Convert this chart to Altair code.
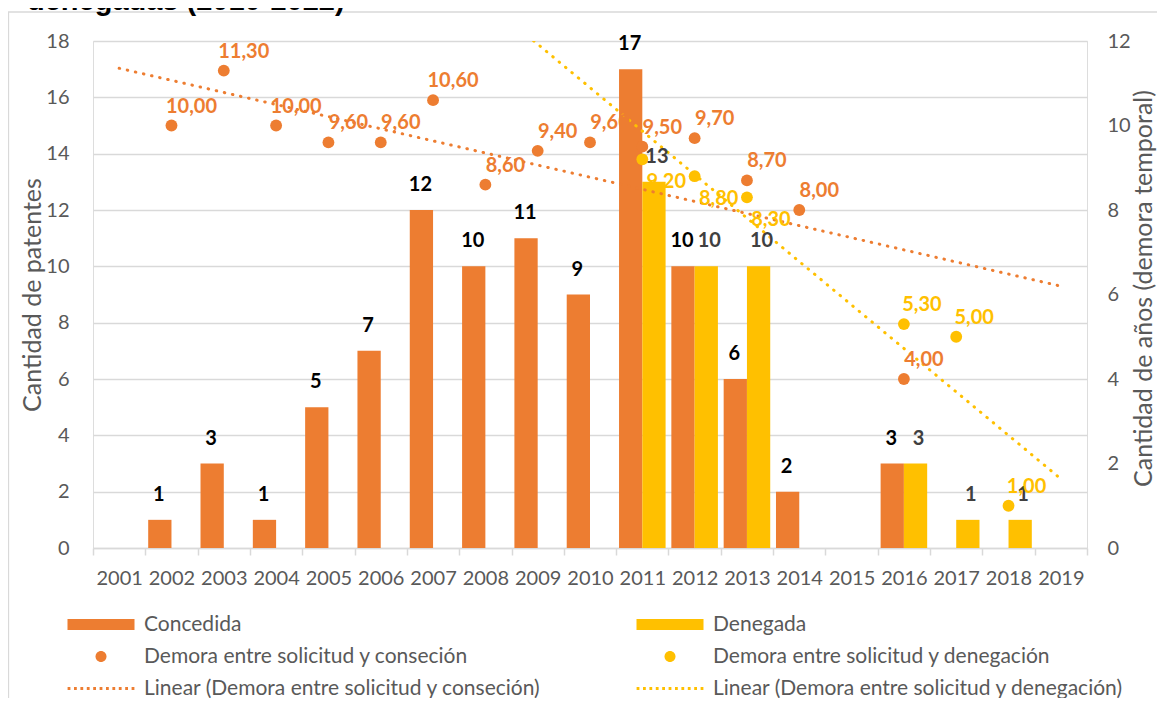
import altair as alt
import pandas as pd

# ---------------- data ----------------
years = list(range(2001, 2020))
concedida = [None, 1, 3, 1, 5, 7, 12, 10, 11, 9, 17, 10, 6, 2, None, 3, None, None, None]
denegada = [None, None, None, None, None, None, None, None, None, None, 13, 10, 10, None, None, 3, 1, 1, None]
demora_concesion = [None, 10.00, 11.30, 10.00, 9.60, 9.60, 10.60, 8.60, 9.40, 9.60, 9.50, 9.70, 8.70, 8.00,
                    None, 4.00, None, None, None]
demora_denegacion = [None, None, None, None, None, None, None, None, None, None, 9.20, 8.80, 8.30, None,
                     None, 5.30, 5.00, 1.00, None]
# x-range over which each linear trend line is visible in the reference
trend_extent_c = [2001, 2019]
trend_extent_d = [2008.8, 2019]

series_a = ["Concedida", "Demora entre solicitud y conseción", "Linear (Demora entre solicitud y conseción)"]
series_b = ["Denegada", "Demora entre solicitud y denegación", "Linear (Demora entre solicitud y denegación)"]
title_text = "denegadas (2010-2022)"
left_title = "Cantidad de patentes"
right_title = "Cantidad de años (demora temporal)"


def table(values):
    d = pd.DataFrame({"year": years, "value": values})
    return d.dropna().reset_index(drop=True)


df_c = table(concedida)
df_d = table(denegada)
df_dc = table(demora_concesion)
df_dd = table(demora_denegacion)

# ---------------- style ----------------
ORANGE = "#ED7D31"
YELLOW = "#FFC000"
GREY = "#595959"
GRID = "#D9D9D9"
FONT = "Lato"
W, H = 994, 507
BAND = W / 19.0

x_scale = alt.Scale(domain=[2000.5, 2019.5], nice=False, zero=False)
x_axis = alt.Axis(
    values=[y - 0.5 for y in years] + [2019.5],
    labelExpr="datum.value < 2019 ? '' + (datum.value + 0.5) : ''",
    labelOffset=BAND / 2, labelFlush=False, labelOverlap=False, labelBound=False,
    grid=False, tickSize=7, tickColor=GRID, tickWidth=1.5,
    domainColor=GRID, domainWidth=1.5,
    labelFont=FONT, labelFontSize=20, labelColor=GREY, labelPadding=13, title=None,
)
yl_scale = alt.Scale(domain=[0, 18], nice=False, zero=True)
yr_scale = alt.Scale(domain=[0, 12], nice=False, zero=True)
yl_axis = alt.Axis(
    orient="left", values=list(range(0, 19, 2)), grid=True, gridColor=GRID, gridWidth=1.5,
    domain=False, ticks=False, tickSize=0, labelFlush=False,
    labelFont=FONT, labelFontSize=20, labelColor=GREY, labelPadding=24,
    title=left_title, titleFont=FONT, titleFontSize=25, titleFontWeight="normal", titleColor=GREY,
    titleAngle=270, titleX=-61, titleY=H / 2, titleBaseline="middle", titleAlign="center",
)
yr_axis = alt.Axis(
    orient="right", values=list(range(0, 13, 2)), grid=False,
    domain=False, ticks=False, tickSize=0, labelFlush=False,
    labelFont=FONT, labelFontSize=20, labelColor=GREY, labelPadding=20, labelAlign="left",
    title=right_title, titleFont=FONT, titleFontSize=25, titleFontWeight="normal", titleColor=GREY,
    titleAngle=270, titleX=56, titleY=247, titleBaseline="middle", titleAlign="center",
)


def xenc(field):
    return alt.X(field, type="quantitative", scale=x_scale, axis=x_axis)


def yl(axis=None):
    return alt.Y("value:Q", scale=yl_scale, axis=axis)


def yr(axis=None):
    return alt.Y("value:Q", scale=yr_scale, axis=axis)


# ---------------- frame of the chart area ----------------
frame = alt.Chart(pd.DataFrame({"k": [0]})).mark_rect(
    fill="transparent", stroke=GRID, strokeWidth=1.3
).encode(
    x=alt.value(-84.5), x2=alt.value(W + 200), y=alt.value(-29), y2=alt.value(H + 300)
)

# ---------------- bars ----------------
bar_c = alt.Chart(df_c).transform_calculate(x0="datum.year - 0.445").mark_bar(color=ORANGE).encode(
    x=xenc("x0"), x2="year:Q", y=yl(yl_axis), y2=alt.datum(0)
)
bar_d = alt.Chart(df_d).transform_calculate(x1="datum.year + 0.445").mark_bar(color=YELLOW).encode(
    x=xenc("year"), x2="x1:Q", y=yl(), y2=alt.datum(0)
)

# ---------------- trend lines (least squares, computed by Vega) ----------------
dot_dash = [0.5, 7.8]
trend_c = alt.Chart(df_dc).transform_regression("year", "value", extent=trend_extent_c).mark_line(
    color=ORANGE, strokeWidth=3, strokeDash=dot_dash, strokeCap="round", clip=True
).encode(x=xenc("year"), y=yr())
trend_d = alt.Chart(df_dd).transform_regression("year", "value", extent=trend_extent_d).mark_line(
    color=YELLOW, strokeWidth=3, strokeDash=dot_dash, strokeCap="round", clip=True
).encode(x=xenc("year"), y=yr())

# ---------------- scatter points ----------------
pts_c = alt.Chart(df_dc).mark_circle(size=140, opacity=1, color=ORANGE).encode(
    x=xenc("year"), y=yr(yr_axis)
)
pts_d = alt.Chart(df_dd).mark_circle(size=140, opacity=1, color=YELLOW).encode(
    x=xenc("year"), y=yr()
)

# ---------------- bar labels ----------------
lab_c = alt.Chart(df_c).transform_calculate(xc="datum.year - 0.2225").mark_text(
    font=FONT, fontSize=20, fontWeight="bold", color="#000000", dx=-1, dy=-25, baseline="middle", align="center"
).encode(x=xenc("xc"), y=yl(), text=alt.Text("value:Q", format="d"))
lab_d = alt.Chart(df_d).transform_calculate(xc="datum.year + 0.2225").mark_text(
    font=FONT, fontSize=20, fontWeight="bold", color="#404040", dx=3, dy=-25, baseline="middle", align="center"
).encode(x=xenc("xc"), y=yl(), text=alt.Text("value:Q", format="d"))

# ---------------- delay labels ----------------
fmt = "replace(format(datum.value, '.2f'), '.', ',')"
plab_c = alt.Chart(df_dc).transform_calculate(label=fmt).mark_text(
    font=FONT, fontSize=20, fontWeight="bold", color=ORANGE, dx=20, dy=-19, baseline="middle", align="center"
).encode(x=xenc("year"), y=yr(), text="label:N")
plab_d_below = alt.Chart(df_dd).transform_calculate(label=fmt).transform_filter("datum.year <= 2013").mark_text(
    font=FONT, fontSize=20, fontWeight="bold", color=YELLOW, dx=24, dy=23, baseline="middle", align="center"
).encode(x=xenc("year"), y=yr(), text="label:N")
plab_d_above = alt.Chart(df_dd).transform_calculate(label=fmt).transform_filter("datum.year > 2013").mark_text(
    font=FONT, fontSize=20, fontWeight="bold", color=YELLOW, dx=18, dy=-19, baseline="middle", align="center"
).encode(x=xenc("year"), y=yr(), text="label:N")

# ---------------- legends (two columns) ----------------
U = 5.0  # px per path unit for symbol size 100
bar_path = "M{a},{b}H{c}V{d}H{a}Z".format(a=-33.5 / U, b=-5.5 / U, c=33.5 / U, d=5.5 / U)
r = 5.5 / U
circle_path = "M{m},0A{r},{r},0,1,0,{r},0A{r},{r},0,1,0,{m},0Z".format(m=-r, r=r)
dots = []
for i in range(11):
    cx = -32 + i * 6.4
    dots.append("M{a},{b}H{c}V{d}H{a}Z".format(a=(cx - 1.4) / U, b=-1.4 / U, c=(cx + 1.4) / U, d=1.4 / U))
dots_path = "".join(dots)


def legend(xpos):
    return alt.Legend(
        orient="none", legendX=xpos, legendY=573, direction="vertical", title=None,
        labelFont=FONT, labelFontSize=21, labelColor=GREY, labelOffset=32.5, labelLimit=700,
        rowPadding=10, padding=0, symbolStrokeWidth=0, symbolOpacity=1, symbolSize=100,
    )


def legend_layer(names, color, xpos):
    return alt.Chart(pd.DataFrame({"serie": names})).transform_filter("false").mark_point(
        filled=True, size=100, opacity=1
    ).encode(
        fill=alt.Fill("serie:N", scale=alt.Scale(domain=names, range=[color] * 3), legend=legend(xpos)),
        shape=alt.Shape("serie:N", scale=alt.Scale(domain=names, range=[bar_path, circle_path, dots_path]),
                        legend=legend(xpos)),
    )


leg_a = legend_layer(series_a, ORANGE, -2.5)
leg_b = legend_layer(series_b, YELLOW, 566.5)

chart = alt.layer(
    frame, bar_c, bar_d, trend_c, trend_d, pts_c, pts_d, lab_c, lab_d, plab_c, plab_d_below, plab_d_above,
    leg_a, leg_b,
).resolve_scale(
    y="independent", fill="independent", shape="independent"
).properties(
    width=W, height=H,
    padding={"left": 85, "top": 33, "right": 70, "bottom": 150},
    autosize=alt.AutoSizeParams(type="none"),
    title=alt.TitleParams(
        title_text, anchor="start", frame="group", font="Liberation Sans", fontSize=29,
        fontWeight="bold", color="#000000", dx=-66, dy=28, offset=0, baseline="alphabetic",
    ),
).configure_view(stroke=None).configure(background="white")

chart.save("out.html", embed_options={"renderer": "svg", "actions": False})
